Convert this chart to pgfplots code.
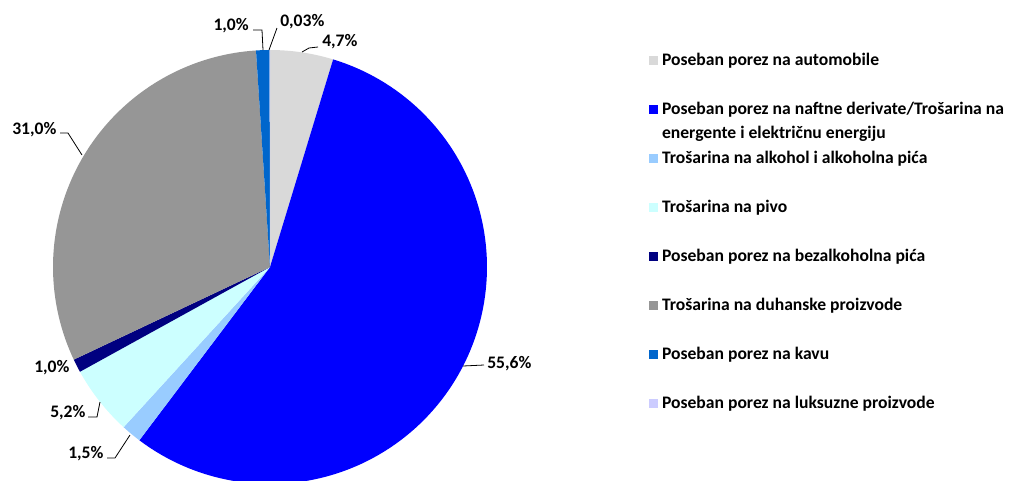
\documentclass[border=0pt]{standalone}
\usepackage{fontspec}
\setmainfont{Carlito}
\usepackage{pgfplots}
\pgfplotsset{compat=1.18}
\definecolor{cAuto}{HTML}{D9D9D9}
\definecolor{cNafta}{HTML}{0000FF}
\definecolor{cAlk}{HTML}{99CCFF}
\definecolor{cPivo}{HTML}{CCFFFF}
\definecolor{cBez}{HTML}{000080}
\definecolor{cDuh}{HTML}{969696}
\definecolor{cKava}{HTML}{0066CC}
\definecolor{cLuks}{HTML}{CCCCFF}
\newcommand{\lf}{\fontsize{13.2}{15.8}\selectfont\bfseries}
\begin{document}
\begin{tikzpicture}
\begin{axis}[
  x=0.75pt, y=0.75pt, y dir=reverse,
  xmin=0, xmax=1011, ymin=0, ymax=480,
  hide axis, clip=true,
  legend image code/.code={\fill[#1, draw=none] (0pt,-3.4pt) rectangle (6.8pt,3.4pt);},
  legend cell align=left,
  legend style={draw=none, fill=none, at={(axis cs:649,36)}, anchor=north west,
    inner sep=0pt, outer sep=0pt, row sep=0pt, column sep=3pt,
    nodes={inner sep=0pt, text height=21.9pt, text depth=14.85pt, font=\lf}},
]
\path (axis cs:0,0) rectangle (axis cs:1011,480);
% pie slices: cumulative shares (%), clockwise from 12 o'clock
% values: 4.7, 55.6, 1.5, 5.2, 1.0, 31.0, 1.0, 0.03
\addplot[fill=cAuto, draw=none, forget plot, domain=0:4.7, samples=20, variable=\t]
  ({270+217*cos(90-3.599*\t)}, {267-217*sin(90-3.599*\t)}) -- (axis cs:270,267) -- cycle;
\addplot[fill=cNafta, draw=none, forget plot, domain=4.7:60.3, samples=120, variable=\t]
  ({270+217*cos(90-3.599*\t)}, {267-217*sin(90-3.599*\t)}) -- (axis cs:270,267) -- cycle;
\addplot[fill=cAlk, draw=none, forget plot, domain=60.3:61.8, samples=8, variable=\t]
  ({270+217*cos(90-3.599*\t)}, {267-217*sin(90-3.599*\t)}) -- (axis cs:270,267) -- cycle;
\addplot[fill=cPivo, draw=none, forget plot, domain=61.8:67.0, samples=20, variable=\t]
  ({270+217*cos(90-3.599*\t)}, {267-217*sin(90-3.599*\t)}) -- (axis cs:270,267) -- cycle;
\addplot[fill=cBez, draw=none, forget plot, domain=67.0:68.0, samples=6, variable=\t]
  ({270+217*cos(90-3.599*\t)}, {267-217*sin(90-3.599*\t)}) -- (axis cs:270,267) -- cycle;
\addplot[fill=cDuh, draw=none, forget plot, domain=68.0:99.0, samples=80, variable=\t]
  ({270+217*cos(90-3.599*\t)}, {267-217*sin(90-3.599*\t)}) -- (axis cs:270,267) -- cycle;
\addplot[fill=cKava, draw=none, forget plot, domain=99.0:100.0, samples=6, variable=\t]
  ({270+217*cos(90-3.599*\t)}, {267-217*sin(90-3.599*\t)}) -- (axis cs:270,267) -- cycle;
\addplot[fill=cLuks, draw=none, forget plot, domain=100.0:100.03, samples=3, variable=\t]
  ({270+217*cos(90-3.599*\t)}, {267-217*sin(90-3.599*\t)}) -- (axis cs:270,267) -- cycle;
% leader lines
\addplot[black, line width=0.6pt, forget plot] coordinates {(269,50) (277,28)};
\addplot[black, line width=0.6pt, forget plot] coordinates {(263,50) (262,30) (253,30)};
\addplot[black, line width=0.6pt, forget plot] coordinates {(302,52) (309,48) (318,47)};
\addplot[black, line width=0.6pt, forget plot] coordinates {(60,133) (68,133) (82,155)};
\addplot[black, line width=0.6pt, forget plot] coordinates {(463,366) (484,365)};
\addplot[black, line width=0.6pt, forget plot] coordinates {(88,417) (97,417) (100,402)};
\addplot[black, line width=0.6pt, forget plot] coordinates {(107,458) (115,458) (130,435)};
% data labels
\node[anchor=base west, inner sep=0pt, font=\lf] at (axis cs:280,26) {0,03\%};
\node[anchor=base east, inner sep=0pt, font=\lf] at (axis cs:249,30) {1,0\%};
\node[anchor=base west, inner sep=0pt, font=\lf] at (axis cs:322,46) {4,7\%};
\node[anchor=base west, inner sep=0pt, font=\lf] at (axis cs:12,134) {31,0\%};
\node[anchor=base west, inner sep=0pt, font=\lf] at (axis cs:487,368) {55,6\%};
\node[anchor=base west, inner sep=0pt, font=\lf] at (axis cs:34,372) {1,0\%};
\node[anchor=base west, inner sep=0pt, font=\lf] at (axis cs:50,417) {5,2\%};
\node[anchor=base west, inner sep=0pt, font=\lf] at (axis cs:68,458) {1,5\%};
% legend
\addlegendimage{fill=cAuto}
\addlegendentry{Poseban porez na automobile}
\addlegendimage{fill=cNafta}
\addlegendentry{\smash{\begingroup\fontsize{13.2}{18}\selectfont\bfseries\def\arraystretch{1}\begin{tabular}[t]{@{}l@{}}Poseban porez na naftne derivate/Trošarina na\\energente i električnu energiju\end{tabular}\endgroup}}
\addlegendimage{fill=cAlk}
\addlegendentry{Trošarina na alkohol i alkoholna pića}
\addlegendimage{fill=cPivo}
\addlegendentry{Trošarina na pivo}
\addlegendimage{fill=cBez}
\addlegendentry{Poseban porez na bezalkoholna pića}
\addlegendimage{fill=cDuh}
\addlegendentry{Trošarina na duhanske proizvode}
\addlegendimage{fill=cKava}
\addlegendentry{Poseban porez na kavu}
\addlegendimage{fill=cLuks}
\addlegendentry{Poseban porez na luksuzne proizvode}
\end{axis}
\end{tikzpicture}
\end{document}
